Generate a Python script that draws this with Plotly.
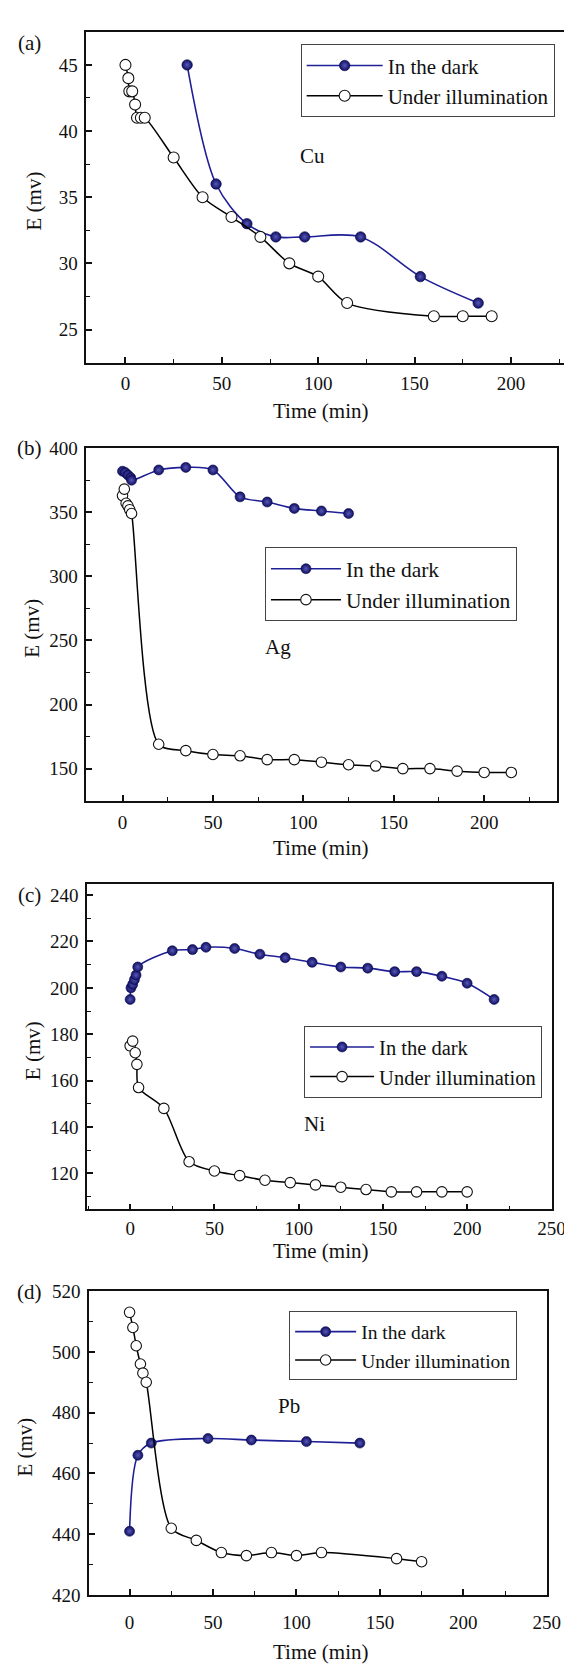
import plotly.graph_objects as go

# ---------------- data ----------------
# (a) Cu
cu_dark_t = [32, 47, 63, 78, 93, 122, 153, 183]
cu_dark_e = [45, 36, 33, 32, 32, 32, 29, 27]
cu_light_t = [0, 1.5, 2, 3.5, 5, 6, 8, 10, 25, 40, 55, 70, 85, 100, 115, 160, 175, 190]
cu_light_e = [45, 44, 43, 43, 42, 41, 41, 41, 38, 35, 33.5, 32, 30, 29, 27, 26, 26, 26]

# (b) Ag
ag_dark_t = [0, 1.5, 3, 4.5, 5, 20, 35, 50, 65, 80, 95, 110, 125]
ag_dark_e = [382, 381, 379, 377, 375, 383, 385, 383, 362, 358, 353, 351, 349]
ag_light_t = [0, 1, 2, 3, 4, 5, 20, 35, 50, 65, 80, 95, 110, 125, 140, 155, 170, 185, 200, 215]
ag_light_e = [363, 368, 357, 355, 352, 349, 169, 164, 161, 160, 157, 157, 155, 153, 152, 150, 150, 148, 147, 147]

# (c) Ni
ni_dark_t = [0, 0.5, 1.5, 2.5, 3.5, 4.5, 25, 37, 45, 62, 77, 92, 108, 125, 141, 157, 170, 185, 200, 216]
ni_dark_e = [195, 200, 201.5, 203.5, 205.5, 209, 216, 216.5, 217.5, 217, 214.5, 213, 211, 209, 208.5, 207, 207, 205, 202, 195]
ni_light_t = [0, 1.5, 3, 4, 5, 20, 35, 50, 65, 80, 95, 110, 125, 140, 155, 170, 185, 200]
ni_light_e = [175, 177, 172, 167, 157, 148, 125, 121, 119, 117, 116, 115, 114, 113, 112, 112, 112, 112]

# (d) Pb
pb_dark_t = [0, 5, 13, 47, 73, 106, 138]
pb_dark_e = [441, 466, 470, 471.5, 471, 470.5, 470]
pb_light_t = [0, 2, 4, 6.5, 8, 10, 25, 40, 55, 70, 85, 100, 115, 160, 175]
pb_light_e = [513, 508, 502, 496, 493, 490, 442, 438, 434, 433, 434, 433, 434, 432, 431]

series_names = ["In the dark", "Under illumination"]
panel_tags = ["(a)", "(b)", "(c)", "(d)"]
metal_names = ["Cu", "Ag", "Ni", "Pb"]
x_title = "Time (min)"
y_title = "E (mv)"

# ---------------- layout geometry (pixels) ----------------
W, H = 572, 1664
FONT = "Liberation Serif, Times New Roman, serif"
DARK_LINE = "#1f1f96"
DARK_MARK = "#0f0f62"

panels = [
    dict(box=(80.3, 570.5, 14, 349), xr=[-20.3, 227.8], yr=[22.5, 47.5], ydt=5, yminor=2.5,
         dark=(cu_dark_t, cu_dark_e), light=(cu_light_t, cu_light_e),
         leg=(300, 26.7), legfont=21, itemw=76, msize=11,
         lab=(97, 38.1), ytitle_x=27, xtitle_y=398, tag_y=25, standoff=3),
    dict(box=(80.3, 562.3, 435, 793.3), xr=[-20, 240], yr=[124.5, 400.5], ydt=50, yminor=25,
         dark=(ag_dark_t, ag_dark_e), light=(ag_light_t, ag_light_e),
         leg=(263.4, 536), legfont=21.5, itemw=70, msize=10.5,
         lab=(86, 245), ytitle_x=25, xtitle_y=841, tag_y=435, standoff=3),
    dict(box=(81, 557.7, 877.3, 1206.7), xr=[-25.6, 250.4], yr=[104.4, 244.7], ydt=20, yminor=10,
         dark=(ni_dark_t, ni_dark_e), light=(ni_light_t, ni_light_e),
         leg=(303.5, 1021), legfont=20.5, itemw=64, msize=10.5,
         lab=(109.5, 141.3), ytitle_x=25, xtitle_y=1249, tag_y=888, standoff=1),
    dict(box=(83.2, 552.3, 1289.3, 1597.3), xr=[-24.2, 250], yr=[420, 520], ydt=20, yminor=10,
         dark=(pb_dark_t, pb_dark_e), light=(pb_light_t, pb_light_e),
         leg=(288.2, 1310), legfont=19.5, itemw=61, msize=10.5,
         lab=(95.7, 482.2), ytitle_x=17, xtitle_y=1655, tag_y=1290, standoff=9),
]

fig = go.Figure()
layout = dict(
    width=W, height=H, margin=dict(l=0, r=0, t=0, b=0),
    paper_bgcolor="white", plot_bgcolor="white",
    font=dict(family=FONT, color="#111111", size=19),
    showlegend=True, annotations=[],
)

for i, p in enumerate(panels):
    n = i + 1
    sfx = "" if n == 1 else str(n)
    xa, ya = "x" + sfx, "y" + sfx
    legname = "legend" + sfx
    l, r, t, b = p["box"]
    dark_t, dark_e = p["dark"]
    light_t, light_e = p["light"]

    fig.add_trace(go.Scatter(
        x=dark_t, y=dark_e, mode="lines+markers", name=series_names[0],
        xaxis=xa, yaxis=ya, legend=legname,
        line=dict(color=DARK_LINE, width=1.6, shape="spline", smoothing=0.9),
        marker=dict(size=p["msize"] - 0.5, color=DARK_MARK,
                    gradient=dict(type="radial", color="#5858b8"),
                    line=dict(width=0.6, color="#0a0a50")),
    ))
    fig.add_trace(go.Scatter(
        x=light_t, y=light_e, mode="lines+markers", name=series_names[1],
        xaxis=xa, yaxis=ya, legend=legname,
        line=dict(color="black", width=1.5, shape="spline", smoothing=0.8),
        marker=dict(size=p["msize"], color="white", line=dict(width=1.1, color="#111111")),
    ))

    axis_common = dict(
        showline=True, mirror=True, linecolor="#111111", linewidth=1.6,
        ticks="inside", ticklen=6, tickwidth=1.5, tickcolor="#111111",
        showgrid=False, zeroline=False,
        tickfont=dict(family=FONT, size=19, color="#111111"),
    )
    layout["xaxis" + sfx] = dict(
        axis_common, domain=[l / W, r / W], range=p["xr"], anchor=ya,
        tick0=0, dtick=50, ticklabelstandoff=p["standoff"],
        minor=dict(tick0=0, dtick=25, ticks="inside", ticklen=4, tickwidth=1.3, tickcolor="#111111"),
    )
    layout["yaxis" + sfx] = dict(
        axis_common, domain=[1 - b / H, 1 - t / H], range=p["yr"], anchor=xa,
        tick0=0, dtick=p["ydt"], ticklabelstandoff=3,
        minor=dict(tick0=0, dtick=p["yminor"], ticks="inside", ticklen=4, tickwidth=1.3, tickcolor="#111111"),
    )
    layout[legname] = dict(
        x=p["leg"][0] / W, y=1 - p["leg"][1] / H, xanchor="left", yanchor="top",
        bgcolor="white", bordercolor="#444444", borderwidth=1,
        font=dict(family=FONT, size=p["legfont"], color="#111111"),
        itemwidth=p["itemw"], tracegroupgap=0,
    )

    # metal label
    layout["annotations"].append(dict(
        x=p["lab"][0], y=p["lab"][1], xref=xa, yref=ya, text=metal_names[i],
        showarrow=False, font=dict(family=FONT, size=21, color="#111111"),
    ))
    # panel tag
    layout["annotations"].append(dict(
        x=22.5 / W, y=1 - p["tag_y"] / H, xref="paper", yref="paper", text=panel_tags[i],
        showarrow=False, xanchor="center", yanchor="middle",
        font=dict(family=FONT, size=21, color="#111111"),
    ))
    # y title
    layout["annotations"].append(dict(
        x=p["ytitle_x"] / W, y=1 - ((t + b) / 2 + 4) / H, xref="paper", yref="paper",
        text=y_title, textangle=-90, showarrow=False, xanchor="center", yanchor="middle",
        font=dict(family=FONT, size=21, color="#111111"),
    ))
    # x title
    layout["annotations"].append(dict(
        x=320 / W, y=1 - p["xtitle_y"] / H, xref="paper", yref="paper",
        text=x_title, showarrow=False, xanchor="center", yanchor="middle",
        font=dict(family=FONT, size=21, color="#111111"),
    ))

fig.update_layout(**layout)
fig.write_html("out.html")
